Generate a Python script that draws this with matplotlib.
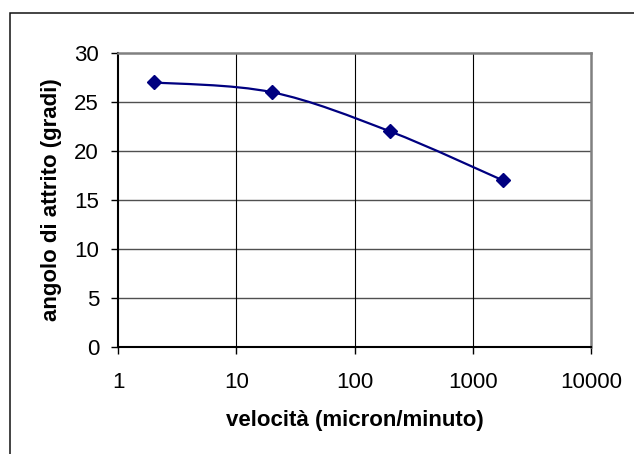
import numpy as np
import matplotlib
matplotlib.use('Agg')
import matplotlib.pyplot as plt
from matplotlib.path import Path
from matplotlib.patches import PathPatch, Rectangle

plt.rcParams['font.family'] = ['Liberation Sans', 'DejaVu Sans']

# data
velocity = [2, 20, 200, 1800]          # micron/minuto
friction_angle = [27, 26, 22, 17]      # gradi
x_ticks = [1, 10, 100, 1000, 10000]
x_tick_labels = ['1', '10', '100', '1000', '10000']
y_ticks = [0, 5, 10, 15, 20, 25, 30]

navy = '#000080'


def smooth_path(xs, ys):
    # excel-like smoothed line: bezier segments built in log-x space
    lx = np.log10(xs)
    pts = np.column_stack((lx, ys))
    n = len(pts)
    verts = [pts[0]]
    codes = [Path.MOVETO]
    for i in range(n - 1):
        p_prev = pts[max(i - 1, 0)]
        p_next2 = pts[min(i + 2, n - 1)]
        c1 = pts[i] + (pts[i + 1] - p_prev) / 6.0
        c2 = pts[i + 1] - (p_next2 - pts[i]) / 6.0
        verts += [c1, c2, pts[i + 1]]
        codes += [Path.CURVE4] * 3
    verts = np.array(verts)
    verts[:, 0] = 10 ** verts[:, 0]
    return Path(verts, codes)


fig = plt.figure(figsize=(6.34, 4.54), dpi=100)
ax = fig.add_axes([118 / 634, 1 - 347 / 454, (591 - 118) / 634, (347 - 53) / 454])

# outer chart border (runs off the right and bottom edges)
fig.patches.append(Rectangle((9.5 / 634, -0.1), 1.2, 1.1 - 13 / 454,
                             transform=fig.transFigure, fill=False,
                             edgecolor='#111111', linewidth=1.1))

ax.set_xscale('log')
ax.set_xlim(1, 10000)
ax.set_ylim(0, 30)

# grid
for yv in y_ticks[1:-1]:
    ax.axhline(yv, color='#505050', linewidth=1.0, zorder=1)
for xv in x_ticks[1:-1]:
    ax.axvline(xv, color='black', linewidth=0.8, zorder=1)

ax.add_patch(PathPatch(smooth_path(velocity, friction_angle), facecolor='none',
                       edgecolor=navy, linewidth=1.6, zorder=3))
ax.plot(velocity, friction_angle, linestyle='none', marker='D', markersize=6.8,
        color=navy, zorder=4)

ax.set_xticks(x_ticks)
ax.set_xticklabels(x_tick_labels)
ax.xaxis.set_minor_locator(matplotlib.ticker.NullLocator())
ax.set_yticks(y_ticks)
ax.tick_params(axis='both', direction='out', length=5, width=1.0, labelsize=16, colors='black')
ax.tick_params(axis='x', pad=13)
ax.tick_params(axis='y', pad=8.6)

ax.spines['left'].set_linewidth(1.5)
ax.spines['bottom'].set_linewidth(1.5)
ax.spines['top'].set_color('#808080')
ax.spines['right'].set_color('#808080')
ax.spines['top'].set_linewidth(1.8)
ax.spines['right'].set_linewidth(1.8)

ax.set_xlabel('velocità (micron/minuto)', fontsize=16, fontweight='bold', labelpad=12)
ax.set_ylabel('angolo di attrito (gradi)', fontsize=16, fontweight='bold', labelpad=9)

fig.savefig('out.png', dpi=100)
plt.close()
